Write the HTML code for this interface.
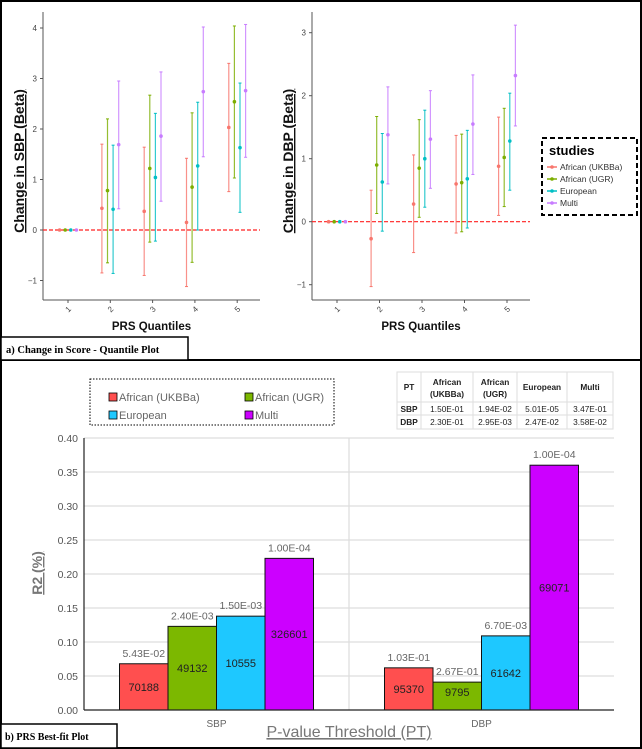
<!DOCTYPE html>
<html><head><meta charset="utf-8">
<style>
html,body{margin:0;padding:0;background:#fff;}
svg{display:block;font-family:"Liberation Sans",sans-serif;}
</style></head>
<body>
<svg id="s" width="642" height="749" viewBox="0 0 642 749" xmlns="http://www.w3.org/2000/svg">
<rect x="1" y="1" width="640" height="747" fill="#fff" stroke="#000" stroke-width="2"/>
<line x1="0" y1="360" x2="642" y2="360" stroke="#000" stroke-width="2"/>
<g id="topG"></g>
<g id="botG"></g>
<g>
<rect x="542" y="138" width="95" height="77" fill="#fff" stroke="#000" stroke-width="2" stroke-dasharray="5,3"/>
<text x="549" y="155" font-size="13" font-weight="bold" fill="#000">studies</text>
<g font-size="8.5" fill="#333">
<line x1="547" y1="167" x2="557" y2="167" stroke="#F8766D" stroke-width="1.5"/><circle cx="552" cy="167" r="1.8" fill="#F8766D"/><text x="560" y="170">African (UKBBa)</text>
<line x1="547" y1="179" x2="557" y2="179" stroke="#7CAE00" stroke-width="1.5"/><circle cx="552" cy="179" r="1.8" fill="#7CAE00"/><text x="560" y="182">African (UGR)</text>
<line x1="547" y1="191" x2="557" y2="191" stroke="#00BFC4" stroke-width="1.5"/><circle cx="552" cy="191" r="1.8" fill="#00BFC4"/><text x="560" y="194">European</text>
<line x1="547" y1="203" x2="557" y2="203" stroke="#C77CFF" stroke-width="1.5"/><circle cx="552" cy="203" r="1.8" fill="#C77CFF"/><text x="560" y="206">Multi</text>
</g></g>
<g>
<rect x="1" y="337" width="187" height="23" fill="#fff" stroke="#000" stroke-width="1.5"/>
<text x="6" y="353" font-family="Liberation Serif, serif" font-weight="bold" font-size="10.5">a) Change in Score - Quantile Plot</text></g>
<g font-size="11" fill="#555">
<rect x="90" y="379" width="244" height="46" fill="#fff" stroke="#000" stroke-dasharray="1.5,1.5"/>
<rect x="109" y="393" width="8" height="8" fill="#FF4F4F" stroke="#000" stroke-width="0.8"/><text x="119" y="401" fill="#666">African (UKBBa)</text>
<rect x="245" y="393" width="8" height="8" fill="#7CB800" stroke="#000" stroke-width="0.8"/><text x="255" y="401" fill="#666">African (UGR)</text>
<rect x="109" y="411" width="8" height="8" fill="#1EC8FF" stroke="#000" stroke-width="0.8"/><text x="119" y="419" fill="#666">European</text>
<rect x="245" y="411" width="8" height="8" fill="#CC00FF" stroke="#000" stroke-width="0.8"/><text x="255" y="419" fill="#666">Multi</text>
</g>
<g font-size="8.3" fill="#222" text-anchor="middle">
<rect x="397" y="372" width="216" height="57" fill="#fff" stroke="#ddd"/>
<g stroke="#ddd"><line x1="421" y1="372" x2="421" y2="429"/><line x1="473" y1="372" x2="473" y2="429"/><line x1="517" y1="372" x2="517" y2="429"/><line x1="567" y1="372" x2="567" y2="429"/><line x1="397" y1="402" x2="613" y2="402"/><line x1="397" y1="415" x2="613" y2="415"/></g>
<g font-weight="bold"><text x="409" y="390">PT</text><text x="447" y="385">African</text><text x="447" y="397">(UKBBa)</text><text x="495" y="385">African</text><text x="495" y="397">(UGR)</text><text x="542" y="390">European</text><text x="590" y="390">Multi</text><text x="409" y="412">SBP</text><text x="409" y="425">DBP</text></g>
<text x="447" y="412">1.50E-01</text><text x="495" y="412">1.94E-02</text><text x="542" y="412">5.01E-05</text><text x="590" y="412">3.47E-01</text>
<text x="447" y="425">2.30E-01</text><text x="495" y="425">2.95E-03</text><text x="542" y="425">2.47E-02</text><text x="590" y="425">3.58E-02</text>
</g>
<g>
<rect x="1" y="724" width="116" height="24" fill="#fff" stroke="#000" stroke-width="1.5"/>
<text x="5" y="740" font-family="Liberation Serif, serif" font-weight="bold" font-size="10">b) PRS Best-fit Plot</text></g>
</svg>
<script>
const quantiles = ["1","2","3","4","5"];
const studies = ["African (UKBBa)","African (UGR)","European","Multi"];
const studyColors = ["#F8766D","#7CAE00","#00BFC4","#C77CFF"];
const sbpMean = [[0,0.43,0.37,0.15,2.03],[0,0.78,1.22,0.85,2.54],[0,0.41,1.04,1.27,1.63],[0,1.69,1.86,2.74,2.76]];
const sbpLow  = [[0,-0.85,-0.90,-1.12,0.76],[0,-0.65,-0.24,-0.64,1.03],[0,-0.86,-0.22,0.00,0.35],[0,0.42,0.57,1.45,1.44]];
const sbpHigh = [[0,1.70,1.64,1.42,3.30],[0,2.20,2.67,2.32,4.04],[0,1.68,2.31,2.53,2.91],[0,2.95,3.13,4.02,4.07]];
const dbpMean = [[0,-0.27,0.28,0.60,0.88],[0,0.90,0.85,0.62,1.02],[0,0.63,1.00,0.68,1.28],[0,1.38,1.31,1.55,2.32]];
const dbpLow  = [[0,-1.03,-0.49,-0.18,0.10],[0,0.13,0.07,-0.16,0.24],[0,-0.15,0.23,-0.10,0.50],[0,0.60,0.53,0.75,1.52]];
const dbpHigh = [[0,0.50,1.06,1.37,1.66],[0,1.67,1.62,1.39,1.80],[0,1.40,1.77,1.45,2.04],[0,2.14,2.08,2.33,3.12]];
const sbpTicks = [-1,0,1,2,3,4];
const dbpTicks = [-1,0,1,2,3];
const groups = ["SBP","DBP"];
const barColors = ["#FF4F4F","#7CB800","#1EC8FF","#CC00FF"];
const sbpR2 = [0.068,0.123,0.138,0.223];
const dbpR2 = [0.062,0.041,0.109,0.360];
const sbpPT = ["5.43E-02","2.40E-03","1.50E-03","1.00E-04"];
const dbpPT = ["1.03E-01","2.67E-01","6.70E-03","1.00E-04"];
const sbpN = ["70188","49132","10555","326601"];
const dbpN = ["95370","9795","61642","69071"];
const r2Ticks = [0,0.05,0.10,0.15,0.20,0.25,0.30,0.35,0.40];

const NS="http://www.w3.org/2000/svg";
function mk(tag,attrs,parent){const e=document.createElementNS(NS,tag);for(const k in attrs)e.setAttribute(k,attrs[k]);parent.appendChild(e);return e;}
const topG=document.getElementById('topG'), botG=document.getElementById('botG');

function quantPlot(x0,x1,yTop,yBot,y0px,unit,catX,mean,low,high,ticks,ylabel,name){
  const g=mk('g',{},topG);
  
  
  const Y=v=>y0px-v*unit;
  mk('line',{x1:x0,y1:yTop,x2:x0,y2:yBot,stroke:'#555','stroke-width':1},g);
  mk('line',{x1:x0,y1:yBot,x2:x1,y2:yBot,stroke:'#555','stroke-width':1},g);
  ticks.forEach(t=>{
    const tx=mk('text',{x:x0-6,y:Y(t)+3,'font-size':8,'text-anchor':'end',fill:'#444'},g);tx.textContent=(t<0?'\u2212'+(-t):t);
    
    
    mk('line',{x1:x0-3,y1:Y(t),x2:x0,y2:Y(t),stroke:'#555'},g);
  });
  quantiles.forEach((q,i)=>{
    const cx=catX(i);
    mk('line',{x1:cx,y1:yBot,x2:cx,y2:yBot+3,stroke:'#555'},g);
    const tx=mk('text',{x:cx,y:yBot+12,'font-size':8,'text-anchor':'middle',fill:'#444',transform:`rotate(-45 ${cx} ${yBot+9})`},g);tx.textContent=q;
    
    
  });
  mk('line',{x1:x0,y1:Y(0),x2:x1,y2:Y(0),stroke:'#ff2020','stroke-width':1.2,'stroke-dasharray':'4,2'},g);
  studies.forEach((s,si)=>{
    quantiles.forEach((q,i)=>{
      const cx=catX(i)+(si-1.5)*5.6, c=studyColors[si];
      const eb=mk('g',{},g);
      
      
      if(high[si][i]!==low[si][i]){
        mk('line',{x1:cx,y1:Y(low[si][i]),x2:cx,y2:Y(high[si][i]),stroke:c,'stroke-width':1.2,opacity:0.8},eb);
        mk('line',{x1:cx-1.5,y1:Y(low[si][i]),x2:cx+1.5,y2:Y(low[si][i]),stroke:c},eb);
        mk('line',{x1:cx-1.5,y1:Y(high[si][i]),x2:cx+1.5,y2:Y(high[si][i]),stroke:c},eb);
      }
      mk('circle',{cx:cx,cy:Y(mean[si][i]),r:1.8,fill:c},eb);
    });
  });
  const yl=mk('text',{x:0,y:0,'font-size':14,'font-weight':'bold','text-anchor':'middle',fill:'#111','text-decoration':'underline',transform:`translate(${x0-19},${(yTop+yBot)/2+5}) rotate(-90)`},g);yl.textContent=ylabel;
  
  
  const xl=mk('text',{x:(x0+x1)/2,y:330,'font-size':11.5,'font-weight':'bold','text-anchor':'middle',fill:'#111'},g);xl.textContent='PRS Quantiles';
  
  
}
quantPlot(43,260,12,300,230,50.5,i=>68+i*42.3,sbpMean,sbpLow,sbpHigh,sbpTicks,'Change in SBP (Beta)','sbp-quantile-plot');
quantPlot(312,530,12,300,221.7,63,i=>337+i*42.5,dbpMean,dbpLow,dbpHigh,dbpTicks,'Change in DBP (Beta)','dbp-quantile-plot');

(function(){
  const x0=84,x1=614,y0=710,y40=438;
  const Y=v=>y0-(v/0.40)*(y0-y40);
  const g=mk('g',{},botG);
  
  
  r2Ticks.forEach(t=>{
    if(t>0) mk('line',{x1:x0,y1:Y(t),x2:x1,y2:Y(t),stroke:'#ddd','stroke-width':1.2},g);
    const tx=mk('text',{x:x0-6,y:Y(t)+4,'font-size':10.5,'text-anchor':'end',fill:'#555'},g);tx.textContent=t.toFixed(2);
    
    
  });
  mk('line',{x1:(x0+x1)/2,y1:y40,x2:(x0+x1)/2,y2:y0,stroke:'#ddd','stroke-width':1.2},g);
  mk('line',{x1:x0,y1:y40,x2:x0,y2:y0,stroke:'#222','stroke-width':1.2},g);
  const gw=(x1-x0)/2, bw=48.5;
  const vals=[sbpR2,dbpR2], pts=[sbpPT,dbpPT], ns=[sbpN,dbpN];
  groups.forEach((gname,gi)=>{
    const cx=x0+gw*(gi+0.5);
    vals[gi].forEach((v,bi)=>{
      const bx=cx+(bi-2)*bw;
      const r=mk('rect',{x:bx,y:Y(v),width:bw,height:y0-Y(v),fill:barColors[bi],stroke:'#111','stroke-width':1},g);
      
      
      const lt=mk('text',{x:bx+bw/2,y:Y(v)-7,'font-size':10.5,'text-anchor':'middle',fill:'#666'},g);lt.textContent=pts[gi][bi];
      
      
      const nt=mk('text',{x:bx+bw/2,y:Math.min(y0-14,(Y(v)+y0)/2+4),'font-size':11,'text-anchor':'middle',fill:'#222'},g);nt.textContent=ns[gi][bi];
      
      
    });
    const cl=mk('text',{x:cx,y:727,'font-size':10,'text-anchor':'middle',fill:'#666'},g);cl.textContent=gname;
    
    
  });
  mk('line',{x1:x0,y1:y0,x2:x1,y2:y0,stroke:'#222','stroke-width':1.2},g);
  const xt=mk('text',{x:(x0+x1)/2,y:737,'font-size':16,'text-anchor':'middle',fill:'#777','text-decoration':'underline'},g);xt.textContent='P-value Threshold (PT)';
  
  
  const yt=mk('text',{x:0,y:0,'font-size':14,'font-weight':'bold','text-anchor':'middle',fill:'#777','text-decoration':'underline',transform:'translate(42,573) rotate(-90)'},g);yt.textContent='R2 (%)';
  
  
})();
</script>
</body></html>
